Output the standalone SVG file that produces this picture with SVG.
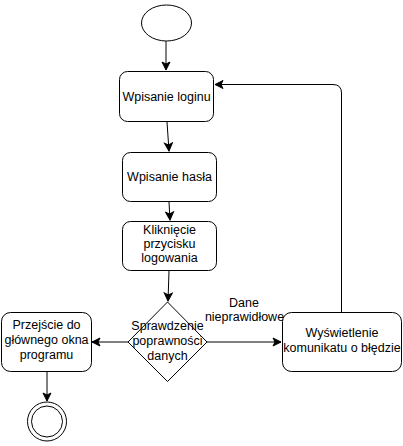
<svg xmlns="http://www.w3.org/2000/svg" width="403" height="446" viewBox="0 0 403 446">
<defs>
<style>
.n{fill:#fff;stroke:#000;stroke-width:1}
.t{font-family:"Liberation Sans",Arial,sans-serif;font-size:12.5px;fill:#000;text-anchor:middle}
.e{fill:none;stroke:#000;stroke-width:1}
</style>
<marker id="a" viewBox="0 0 10 10" refX="9" refY="5" markerWidth="10" markerHeight="10" markerUnits="userSpaceOnUse" orient="auto">
<path d="M1,1 L9,5 L1,9 L3,5 Z" fill="#000" stroke="#000" stroke-width="1"/>
</marker>
</defs>
<rect width="403" height="446" fill="#fff"/>
<g id="connectors">
<path class="e" d="M166,41 L166,70" marker-end="url(#a)"/>
<path class="e" d="M167,122 L169,151" marker-end="url(#a)"/>
<path class="e" d="M169,202 L170,220" marker-end="url(#a)"/>
<path class="e" d="M169,271 L168,301" marker-end="url(#a)"/>
<path class="e" d="M128,342 L92,342" marker-end="url(#a)"/>
<path class="e" d="M47,372 L47,401" marker-end="url(#a)"/>
<path class="e" d="M207,342 L281,342" marker-end="url(#a)"/>
<path class="e" d="M341.5,312 L341.5,93 Q341.5,84.5 333,84.5 L215,84.5" marker-end="url(#a)"/>
<text class="t" x="244" y="307">Dane</text>
<text class="t" x="244.5" y="321">nieprawidłowe</text>
</g>
<g id="start">
<ellipse class="n" cx="166.5" cy="23" rx="25" ry="18"/>
</g>
<g id="login">
<rect class="n" x="119.5" y="71.5" width="94" height="50" rx="8"/>
<text class="t" x="166.5" y="101">Wpisanie loginu</text>
</g>
<g id="haslo">
<rect class="n" x="122.5" y="152.5" width="94" height="49" rx="8"/>
<text class="t" x="169.5" y="181">Wpisanie hasła</text>
</g>
<g id="klik">
<rect class="n" x="122.5" y="221.5" width="94" height="49" rx="8"/>
<text class="t" x="169.5" y="234">Kliknięcie</text>
<text class="t" x="169.5" y="248">przycisku</text>
<text class="t" x="169.5" y="262">logowania</text>
</g>
<g id="decyzja">
<path class="n" d="M167.5,302 L207,342 L167.5,381.5 L128,342 Z"/>
<text class="t" x="167.5" y="330">Sprawdzenie</text>
<text class="t" x="167.5" y="345">poprawności</text>
<text class="t" x="167.5" y="360">danych</text>
</g>
<g id="przejscie">
<rect class="n" x="1.5" y="312.5" width="90" height="59" rx="9"/>
<text class="t" x="46.5" y="329">Przejście do</text>
<text class="t" x="46.5" y="344">głównego okna</text>
<text class="t" x="46.5" y="359">programu</text>
</g>
<g id="blad">
<rect class="n" x="282.5" y="312.5" width="119" height="59" rx="9"/>
<text class="t" x="342" y="337">Wyświetlenie</text>
<text class="t" x="342" y="352">komunikatu o błędzie</text>
</g>
<g id="end">
<circle class="n" cx="47" cy="421.5" r="19.5"/>
<circle class="n" cx="47" cy="421.5" r="15.5"/>
</g>
</svg>
